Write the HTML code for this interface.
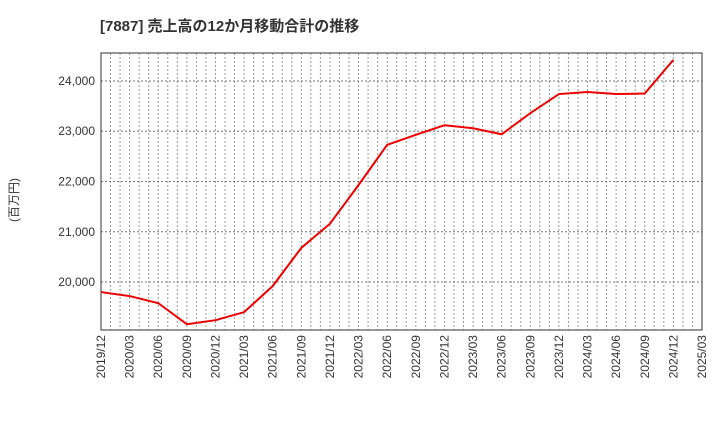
<!DOCTYPE html>
<html><head><meta charset="utf-8"><style>
body{margin:0;background:#fff;font-family:"Liberation Sans","Noto Sans CJK JP",sans-serif;}
</style></head><body>
<svg id="c" width="720" height="440" xmlns="http://www.w3.org/2000/svg">
<text x="100" y="31" font-size="15" font-weight="bold" fill="#333" font-family="Liberation Sans,Noto Sans CJK JP,sans-serif">[7887]  売上高の12か月移動合計の推移</text>
<text transform="translate(18,200) rotate(-90)" text-anchor="middle" font-size="12" fill="#333" font-family="Liberation Sans,Noto Sans CJK JP,sans-serif">(百万円)</text>
<g id="grid"></g><g id="axes"></g><g id="series"></g>
</svg>
<script>
const xLabels=["2019/12","2020/03","2020/06","2020/09","2020/12","2021/03","2021/06","2021/09","2021/12","2022/03","2022/06","2022/09","2022/12","2023/03","2023/06","2023/09","2023/12","2024/03","2024/06","2024/09","2024/12","2025/03"];
const values=[19800,19720,19580,19160,19240,19400,19920,20680,21160,21930,22730,22930,23120,23060,22940,23360,23740,23780,23740,23750,24420];
const yTicks=[20000,21000,22000,23000,24000];
const L=101,R=702,T=53,B=330,yMin=19045,yMax=24557;
const NS="http://www.w3.org/2000/svg";
const x=i=>L+(R-L)*i/(xLabels.length-1);
const y=v=>B-(v-yMin)/(yMax-yMin)*(B-T);
function mk(t,a,p){const e=document.createElementNS(NS,t);for(const k in a)e.setAttribute(k,a[k]);p.appendChild(e);return e;}
const g=document.getElementById('grid'),ax=document.getElementById('axes'),s=document.getElementById('series');
const months=(xLabels.length-1)*3;
for(let m=1;m<months;m++){const xx=L+(R-L)*m/months;
const l=mk('line',{x1:xx,x2:xx,y1:T,y2:B,stroke:'#999','stroke-dasharray':'2,2','stroke-width':1},g);

}
yTicks.forEach(v=>{const l=mk('line',{x1:L,x2:R,y1:y(v),y2:y(v),stroke:'#777','stroke-dasharray':'2,2','stroke-width':1},g);


const t=mk('text',{x:L-6,y:y(v)+4,'text-anchor':'end','font-size':12,fill:'#333'},ax);t.textContent=v.toLocaleString('en-US');

});
xLabels.forEach((lb,i)=>{const t=mk('text',{transform:`translate(${x(i)+4},${B+5}) rotate(-90)`,'text-anchor':'end','font-size':12,fill:'#333'},ax);t.textContent=lb;

});
const fr=mk('rect',{x:L,y:T,width:R-L,height:B-T,fill:'none',stroke:'#333','stroke-width':1},ax);


const pl=mk('polyline',{points:values.map((v,i)=>x(i)+','+y(v)).join(' '),fill:'none',stroke:'#e00','stroke-width':2},s);


</script>
</body></html>
